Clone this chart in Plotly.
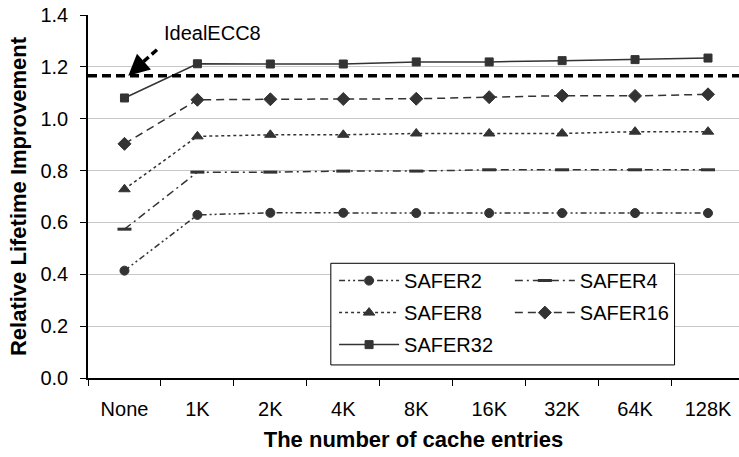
import plotly.graph_objects as go

categories = ["None", "1K", "2K", "4K", "8K", "16K", "32K", "64K", "128K"]
safer2 = [0.414, 0.629, 0.637, 0.637, 0.636, 0.636, 0.636, 0.636, 0.636]
safer4 = [0.574, 0.794, 0.794, 0.798, 0.798, 0.803, 0.803, 0.803, 0.803]
safer8 = [0.728, 0.932, 0.938, 0.938, 0.943, 0.943, 0.943, 0.950, 0.950]
safer16 = [0.903, 1.073, 1.075, 1.076, 1.077, 1.083, 1.089, 1.088, 1.094]
safer32 = [1.080, 1.212, 1.211, 1.211, 1.219, 1.219, 1.224, 1.228, 1.234]
ideal_ecc8 = 1.166
y_ticks = [0.0, 0.2, 0.4, 0.6, 0.8, 1.0, 1.2, 1.4]

FONT = "Liberation Sans, Arial, sans-serif"
DARK = "#333333"

series = [
    ("SAFER2", safer2, "circle", 9, "6px,3px,2px,3px,2px,3px", "legend"),
    ("SAFER4", safer4, "line-ew", 10, "8px,4px,2px,4px", "legend2"),
    ("SAFER8", safer8, "triangle-up", 10, "3px,3px", "legend"),
    ("SAFER16", safer16, "diamond", 10, "8px,5px", "legend2"),
    ("SAFER32", safer32, "square", 8, "solid", "legend"),
]

fig = go.Figure()
for name, vals, sym, size, dash, leg in series:
    marker = dict(symbol=sym, size=size, color=DARK, line=dict(color=DARK, width=1))
    if sym == "line-ew":
        marker = dict(symbol=sym, size=size, color=DARK, line=dict(color=DARK, width=3))
    fig.add_trace(go.Scatter(
        x=categories, y=vals, name=name, mode="lines+markers",
        line=dict(color=DARK, width=1.5, dash=dash),
        marker=marker, legend=leg, legendgroup=name,
    ))

# IdealECC8 reference line
fig.add_hline(y=ideal_ecc8, line=dict(color="black", width=3.5, dash="9px,5px"), layer="above")

# legend border box
fig.add_shape(type="rect", xref="paper", yref="paper",
              x0=0.373, x1=0.901, y0=0.036, y1=0.316,
              line=dict(color="black", width=1), fillcolor="white", layer="above")

# IdealECC8 label and dashed arrow
fig.add_annotation(x=1.2, y=1.332, xref="x", yref="y", text="IdealECC8",
                   showarrow=False, font=dict(family=FONT, size=20, color="black"))
fig.add_shape(type="line", xref="x", yref="y", x0=0.445, y0=1.266, x1=0.14, y1=1.19,
              line=dict(color="black", width=3.5, dash="7px,4px"), layer="above")
fig.add_annotation(x=0.052, y=ideal_ecc8, xref="x", yref="y", text="",
                   showarrow=True, arrowhead=2, arrowsize=1.2, arrowwidth=3.5,
                   arrowcolor="black", ax=9, ay=-8)

fig.update_layout(
    width=739, height=457,
    margin=dict(l=88, r=0, t=15, b=79),
    paper_bgcolor="white", plot_bgcolor="white",
    font=dict(family=FONT, size=20, color="black"),
    showlegend=True,
    legend=dict(x=0.378, y=0.322, xanchor="left", yanchor="top",
                bgcolor="rgba(0,0,0,0)", borderwidth=0, itemwidth=60,
                tracegroupgap=3, font=dict(size=20, family=FONT)),
    legend2=dict(x=0.648, y=0.322, xanchor="left", yanchor="top",
                 bgcolor="rgba(0,0,0,0)", borderwidth=0, itemwidth=60,
                 tracegroupgap=3, font=dict(size=20, family=FONT)),
    xaxis=dict(
        type="category", range=[-0.5, 8.425], tickson="boundaries",
        ticks="outside", ticklen=6, tickcolor="black", showline=True,
        linecolor="black", linewidth=1.5, showgrid=False, ticklabelstandoff=12,
        tickfont=dict(size=20, family=FONT),
        title=dict(text="<b>The number of cache entries</b>", standoff=13,
                   font=dict(size=22, family=FONT)),
        automargin=False,
    ),
    yaxis=dict(
        range=[0, 1.4], tickvals=y_ticks, ticktext=[f"{v:.1f}" for v in y_ticks],
        ticks="outside", ticklen=6, tickcolor="black", showline=True,
        linecolor="black", linewidth=1.5, showgrid=True, gridcolor="#c8c8c8",
        gridwidth=1, zeroline=False, ticklabelstandoff=8,
        tickfont=dict(size=20, family=FONT),
        title=dict(text="<b>Relative Lifetime Improvement</b>", standoff=8,
                   font=dict(size=22, family=FONT)),
        automargin=False,
    ),
)

fig.write_html("out.html")
